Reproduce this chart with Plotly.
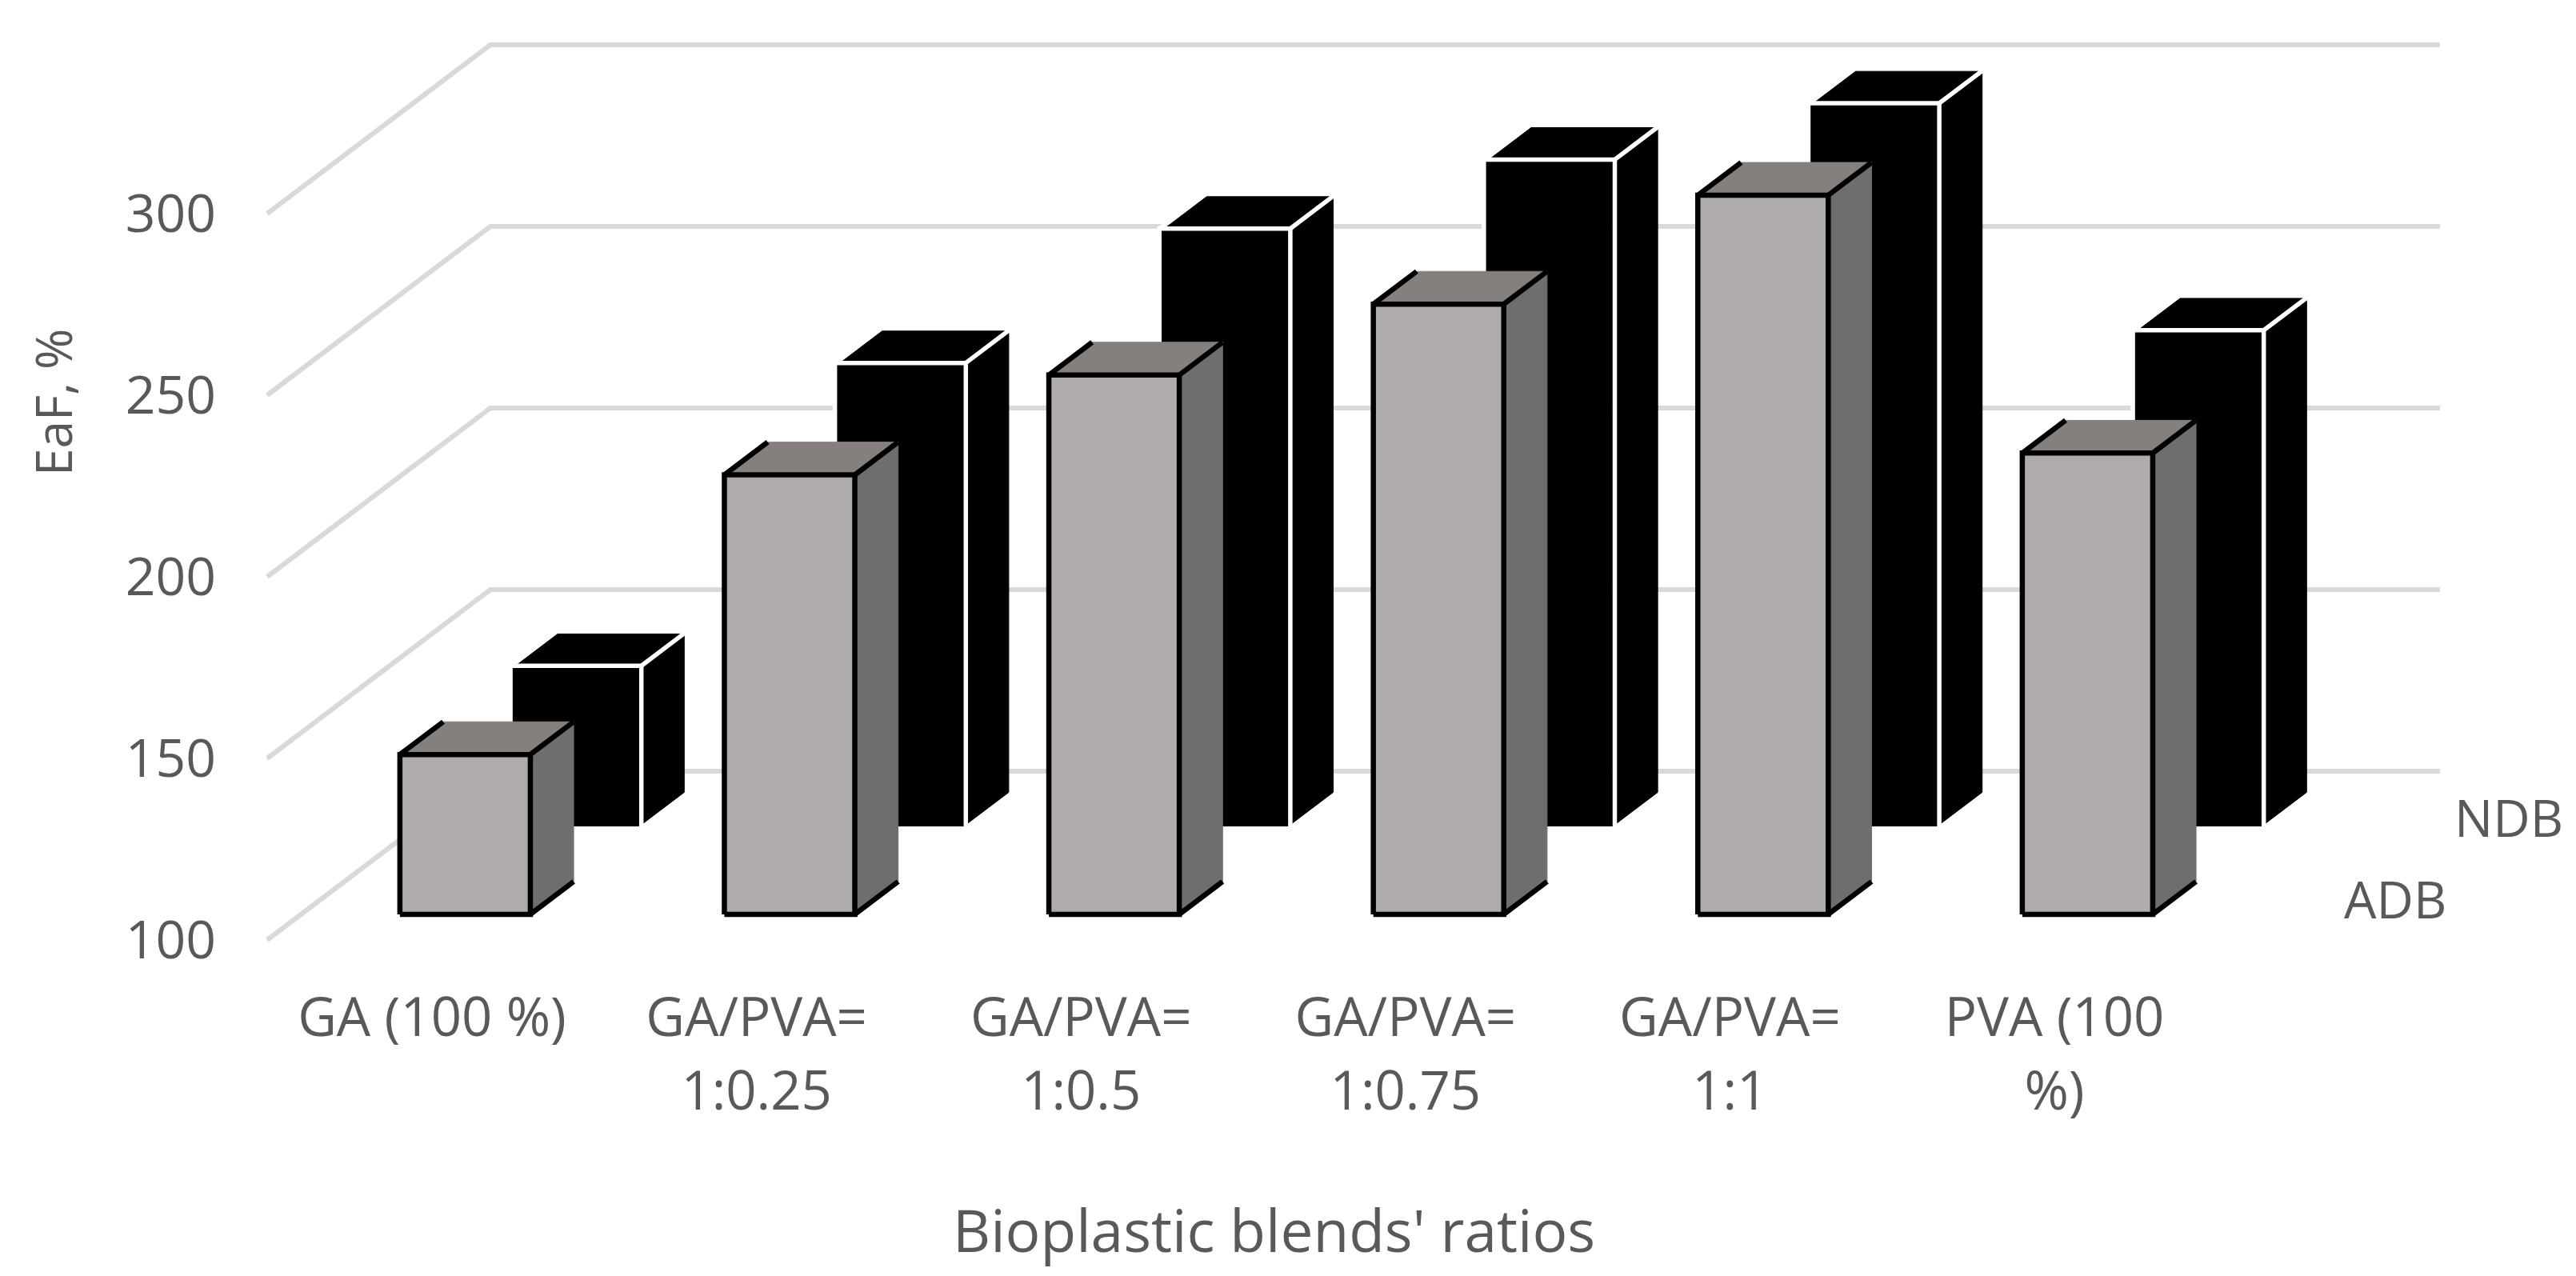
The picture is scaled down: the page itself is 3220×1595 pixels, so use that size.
import plotly.graph_objects as go

# ---- data ----
categories = ["GA (100 %)", "GA/PVA=<br>1:0.25", "GA/PVA=<br>1:0.5",
              "GA/PVA=<br>1:0.75", "GA/PVA=<br>1:1", "PVA (100<br>%)"]
adb_values = [144, 221, 248.5, 268, 298, 227]
ndb_values = [143.6, 227, 264, 283, 298.5, 236]
value_ticks = [100, 150, 200, 250, 300]

W, H = 3220, 1595
FONT = "Open Sans"
TXT = "#595959"
TICK_PX = 66

# axis calibration (pixels per unit) - only used to set ranges
PX_X, X0 = 405.6, 540.0
PX_Y, Y0 = 4.54, 1175.0
# oblique projection: depth 1 = back wall
DX, DY = 279 / PX_X, 211 / PX_Y


def proj(cat, val, z):
    return cat + DX * z, val + DY * z


def box(values, z0, z1, shift, half, out):
    front, top, side, edges = ([], []), ([], []), ([], []), ([], [])
    ox, oy = out / PX_X, out / PX_Y

    def add(store, pts):
        for c, v, z in pts:
            px, py = proj(c, v, z)
            store[0].append(px)
            store[1].append(py)
        store[0].append(None)
        store[1].append(None)

    for i, v in enumerate(values):
        l, r = i + shift - half, i + shift + half
        add(front, [(l, 100, z0), (r, 100, z0), (r, v, z0), (l, v, z0), (l, 100, z0)])
        add(top, [(l, v, z0), (r, v, z0), (r, v, z1), (l, v, z1), (l, v, z0)])
        add(side, [(r, 100, z0), (r, 100, z1), (r, v, z1), (r, v, z0), (r, 100, z0)])
        L, R, T, B = l - ox, r + ox, v + oy, 100 - oy
        add(edges, [(L, B, z0), (R, B, z0), (R, T, z0), (L, T, z0), (L, B, z0)])
        add(edges, [(L, T, z0), (L, T, z1)])
        add(edges, [(R, T, z0), (R, T, z1)])
        add(edges, [(R, B, z0), (R, B, z1)])
    return front, top, side, edges


fig = go.Figure()

# gridlines: floor/side diagonal + back wall
gx, gy = [], []
for t in value_ticks:
    x_a, y_a = proj(-0.508, t, 0)
    x_b, y_b = proj(-0.508, t, 1)
    gx += [x_a, x_b, 6.188, None]
    gy += [y_a, y_b, y_b, None]
fig.add_trace(go.Scatter(x=gx, y=gy, mode="lines", line=dict(color="#D9D9D9", width=6),
                         hoverinfo="skip", showlegend=False))


def draw(values, z0, z1, shift, half, cf, ct, cs, ce, lw, out, name):
    front, top, side, edges = box(values, z0, z1, shift, half, out)
    for poly, col in ((side, cs), (top, ct), (front, cf)):
        fig.add_trace(go.Scatter(x=poly[0], y=poly[1], mode="lines", fill="toself",
                                 fillcolor=col, line=dict(color=col, width=1),
                                 name=name, hoverinfo="skip", showlegend=False))
    fig.add_trace(go.Scatter(x=edges[0], y=edges[1], mode="lines",
                             line=dict(color=ce, width=lw),
                             hoverinfo="skip", showlegend=False))


draw(ndb_values, 0.673, 0.875, -0.0195, 0.195, "#000000", "#000000", "#000000", "#FFFFFF", 5.5, 2.75, "NDB")
draw(adb_values, 0.152, 0.346, -0.0025, 0.201, "#AEABAA", "#85807E", "#6F6E6F", "#000000", 6.5, 0, "ADB")

tick_text = [f'<span style="font-size:67px">' +
             c.replace("<br>", f'</span><br><span style="font-size:67px">') + "</span>"
             for c in categories]

fig.update_layout(
    width=W, height=H, margin=dict(l=0, r=0, t=0, b=0),
    paper_bgcolor="white", plot_bgcolor="white", showlegend=False,
    font=dict(family=FONT, color=TXT, size=TICK_PX),
    xaxis=dict(range=[-X0 / PX_X, (W - X0) / PX_X], tickmode="array",
               tickvals=list(range(6)), ticktext=tick_text,
               tickfont=dict(family=FONT, color=TXT, size=71), tickangle=0,
               showgrid=False, zeroline=False, showline=False, ticks="",
               anchor="free", position=1 - 1223 / H),
    yaxis=dict(range=[100 - (H - Y0) / PX_Y, 100 + Y0 / PX_Y], tickmode="array",
               tickvals=value_ticks, ticktext=[str(v) for v in value_ticks],
               tickfont=dict(family=FONT, color=TXT, size=TICK_PX),
               showgrid=False, zeroline=False, showline=False, ticks="",
               anchor="free", position=270 / W),
    annotations=[
        dict(text="EaF, %", xref="paper", yref="paper", x=66 / W, y=1 - 503 / H,
             xanchor="center", yanchor="middle",
             textangle=-90, showarrow=False, font=dict(family=FONT, color=TXT, size=62)),
        dict(text="Bioplastic blends' ratios", xref="paper", yref="paper", x=1592 / W, y=1 - 1536 / H,
             xanchor="center", yanchor="middle",
             showarrow=False, font=dict(family=FONT, color=TXT, size=73)),
        dict(text="ADB", xref="paper", yref="paper", x=3060 / W, y=1 - 1123 / H,
             xanchor="right", yanchor="middle",
             showarrow=False, font=dict(family=FONT, color=TXT, size=64)),
        dict(text="NDB", xref="paper", yref="paper", x=3206 / W, y=1 - 1021 / H,
             xanchor="right", yanchor="middle",
             showarrow=False, font=dict(family=FONT, color=TXT, size=64)),
    ],
)

fig.write_html("out.html", config={"displayModeBar": False},
               post_script="document.body.style.margin='0';")
